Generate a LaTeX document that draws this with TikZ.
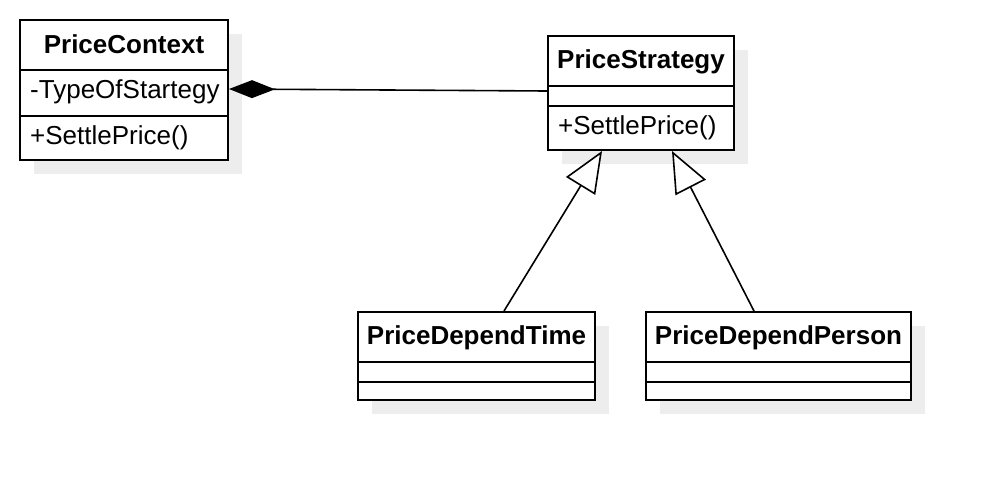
\documentclass[tikz,border=0pt]{standalone}
\usepackage{fontspec}
\setmainfont{Liberation Sans}
\usetikzlibrary{arrows.meta,shadows}
\begin{document}
\begin{tikzpicture}[x=1pt,y=-1pt,
  cls/.style={draw=black, line width=2pt, fill=white, inner sep=0pt,
    general shadow={fill=black!7, shadow xshift=14pt, shadow yshift=-14pt}},
  sep/.style={line width=2pt},
  title/.style={font=\fontsize{26}{30}\selectfont\bfseries, inner sep=0pt, anchor=base},
  member/.style={font=\fontsize{26}{30}\selectfont, inner sep=0pt, anchor=base west},
  conn/.style={line width=1.6pt},
]
\useasboundingbox[fill=white] (0,0) rectangle (990,480);

% PriceContext
\node[cls, minimum width=208pt, minimum height=140pt] (ctx) at (124,90) {};
\draw[sep] (ctx.west |- 0,70) -- (ctx.east |- 0,70);
\draw[sep] (ctx.west |- 0,116) -- (ctx.east |- 0,116);
\node[title] (ctxT) at (124,53) {PriceContext};
\node[member] (ctxA) at (30,98) {-TypeOfStartegy};
\node[member] (ctxM) at (30,144) {+SettlePrice()};

% PriceStrategy
\node[cls, minimum width=186pt, minimum height=114pt] (st) at (641,93) {};
\draw[sep] (st.west |- 0,86) -- (st.east |- 0,86);
\draw[sep] (st.west |- 0,106) -- (st.east |- 0,106);
\node[title] (stT) at (641,68) {PriceStrategy};
\node[member] (stM) at (558,134) {+SettlePrice()};

% PriceDependTime
\node[cls, minimum width=237pt, minimum height=88pt] (tm) at (476.5,356) {};
\draw[sep] (tm.west |- 0,362) -- (tm.east |- 0,362);
\draw[sep] (tm.west |- 0,382) -- (tm.east |- 0,382);
\node[title] (tmT) at (476.5,344) {PriceDependTime};

% PriceDependPerson
\node[cls, minimum width=265pt, minimum height=88pt] (ps) at (778.5,356) {};
\draw[sep] (ps.west |- 0,362) -- (ps.east |- 0,362);
\draw[sep] (ps.west |- 0,382) -- (ps.east |- 0,382);
\node[title] (psT) at (778.5,344) {PriceDependPerson};

% composition
\draw[conn, -{Diamond[length=46pt,width=18pt]}] (st.west |- 0,91) -- (ctx.east |- 0,89);

% generalisations
\draw[conn, -{Triangle[open,fill=white,length=41pt,width=34pt]}] (tm.north -| 504,0) -- (st.south -| 602,0);
\draw[conn, -{Triangle[open,fill=white,length=41pt,width=34pt]}] (ps.north -| 754,0) -- (st.south -| 672,0);
\end{tikzpicture}
\end{document}
